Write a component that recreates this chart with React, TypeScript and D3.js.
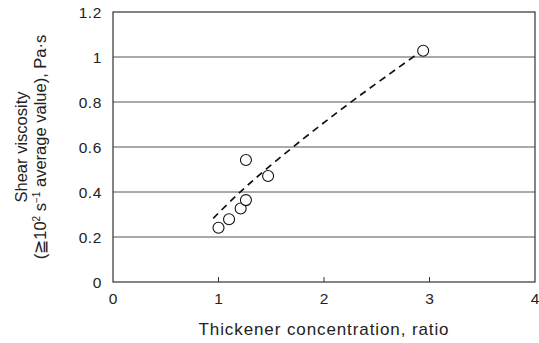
import React, { useEffect, useRef } from 'react'
import * as d3 from 'd3'

// measured points (thickener ratio, shear viscosity)
const pointX = [1.0, 1.1, 1.21, 1.26, 1.26, 1.47, 2.94]
const pointY = [0.241, 0.279, 0.327, 0.364, 0.542, 0.471, 1.028]

// dashed trend curve
const trendX = [0.95, 1.3, 1.8, 2.3, 2.86]
const trendY = [0.283, 0.44, 0.635, 0.815, 1.005]

const xTicks = [0, 1, 2, 3, 4]
const yTicks = [0, 0.2, 0.4, 0.6, 0.8, 1, 1.2]

const App: React.FC = () => {
  const svgRef = useRef<SVGSVGElement>(null)
  const width = 539
  const height = 343

  useEffect(() => {
    const svg = d3.select(svgRef.current)
    svg.selectAll('*').remove()

    const margin = { top: 12, right: 4, bottom: 61, left: 113 }
    const innerWidth = width - margin.left - margin.right
    const innerHeight = height - margin.top - margin.bottom
    const font = 'Liberation Sans, Arial, Helvetica, sans-serif'

    const g = svg.append('g').attr('transform', `translate(${margin.left},${margin.top})`)

    const x = d3.scaleLinear().domain([0, 4]).range([0, innerWidth])
    const y = d3.scaleLinear().domain([0, 1.2]).range([innerHeight, 0])

    // gridlines
    g.selectAll('.grid')
      .data(yTicks.filter(t => t > 0 && t < 1.2))
      .enter()
      .append('line')
      .attr('x1', 0)
      .attr('x2', innerWidth)
      .attr('y1', d => y(d))
      .attr('y2', d => y(d))
      .attr('stroke', '#555')
      .attr('stroke-width', 1)

    // frame
    g.append('rect')
      .attr('x', 0)
      .attr('y', 0)
      .attr('width', innerWidth)
      .attr('height', innerHeight)
      .attr('fill', 'none')
      .attr('stroke', '#333')
      .attr('stroke-width', 1.2)

    // x ticks inside
    g.selectAll('.xtick')
      .data(xTicks.slice(1, -1))
      .enter()
      .append('line')
      .attr('x1', d => x(d))
      .attr('x2', d => x(d))
      .attr('y1', innerHeight)
      .attr('y2', innerHeight - 5)
      .attr('stroke', '#333')

    g.selectAll('.xlabel')
      .data(xTicks)
      .enter()
      .append('text')
      .attr('x', d => x(d))
      .attr('y', innerHeight + 22)
      .attr('text-anchor', 'middle')
      .attr('font-family', font)
      .attr('font-size', 15.5)
      .attr('fill', '#222')
      .text(d => `${d}`)

    g.selectAll('.ylabel')
      .data(yTicks)
      .enter()
      .append('text')
      .attr('x', -11)
      .attr('y', d => y(d))
      .attr('dy', '0.38em')
      .attr('text-anchor', 'end')
      .attr('font-family', font)
      .attr('font-size', 15.5)
      .attr('letter-spacing', 0.6)
      .attr('fill', '#222')
      .text(d => `${d}`)

    // trend line
    const line = d3.line<number>()
      .x((d, i) => x(trendX[i]))
      .y(d => y(d))
      .curve(d3.curveNatural)

    g.append('path')
      .datum(trendY)
      .attr('d', line)
      .attr('fill', 'none')
      .attr('stroke', '#111')
      .attr('stroke-width', 1.7)
      .attr('stroke-dasharray', '7,5')

    // points
    g.selectAll('.pt')
      .data(pointX)
      .enter()
      .append('circle')
      .attr('cx', d => x(d))
      .attr('cy', (d, i) => y(pointY[i]))
      .attr('r', 5.5)
      .attr('fill', 'white')
      .attr('stroke', '#111')
      .attr('stroke-width', 1.1)

    // axis titles
    g.append('text')
      .attr('x', innerWidth / 2)
      .attr('y', innerHeight + 53)
      .attr('text-anchor', 'middle')
      .attr('font-family', font)
      .attr('font-size', 17)
      .attr('letter-spacing', 0.9)
      .attr('fill', '#222')
      .text('Thickener concentration, ratio')

    const yt = g.append('text')
      .attr('transform', `translate(-86,${innerHeight / 2}) rotate(-90)`)
      .attr('text-anchor', 'middle')
      .attr('font-family', font)
      .attr('font-size', 16.5)
      .attr('fill', '#222')
    yt.append('tspan').attr('x', 0).attr('dy', 0).text('Shear viscosity')
    const l2 = yt.append('tspan').attr('x', 0).attr('dy', 19)
    l2.append('tspan').text('(≧10')
    l2.append('tspan').attr('font-size', 10).attr('dy', -6).text('2')
    l2.append('tspan').attr('dy', 6).text(' s')
    l2.append('tspan').attr('font-size', 10).attr('dy', -6).text('−1')
    l2.append('tspan').attr('dy', 6).text(' average value), Pa·s')
  }, [])

  return (
    <svg ref={svgRef} width={width} height={height} style={{ position: 'absolute', left: 0, top: 0 }}></svg>
  )
}

export default App
